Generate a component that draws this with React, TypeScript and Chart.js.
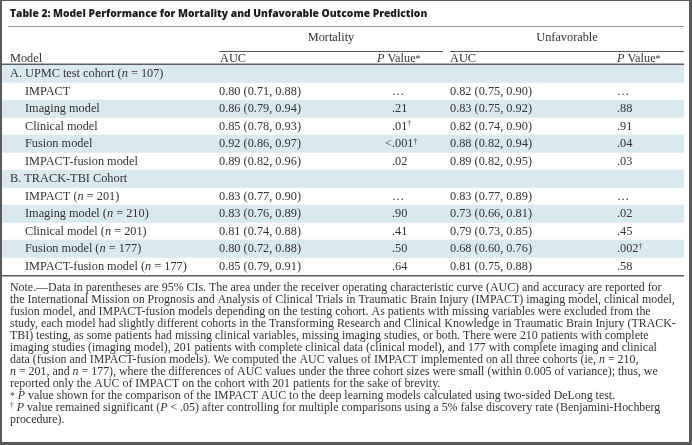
import React, { useEffect, useRef } from "react";
import { Chart, registerables } from "chart.js";

Chart.register(...registerables);

// ---------------- data ----------------
const tableTitle = "Table 2: Model Performance for Mortality and Unfavorable Outcome Prediction";
const outcomeGroups = ["Mortality", "Unfavorable"];
const columnHeaders = ["Model", "AUC", "_P_ Value^*^", "AUC", "_P_ Value^*^"];
const modelRows = [
  "A. UPMC test cohort (_n_ = 107)",
  "IMPACT",
  "Imaging model",
  "Clinical model",
  "Fusion model",
  "IMPACT-fusion model",
  "B. TRACK-TBI Cohort",
  "IMPACT (_n_ = 201)",
  "Imaging model (_n_ = 210)",
  "Clinical model (_n_ = 201)",
  "Fusion model (_n_ = 177)",
  "IMPACT-fusion model (_n_ = 177)",
];
const sectionRow = [true, false, false, false, false, false, true, false, false, false, false, false];
const mortalityAuc = [
  "", "0.80 (0.71, 0.88)", "0.86 (0.79, 0.94)", "0.85 (0.78, 0.93)", "0.92 (0.86, 0.97)", "0.89 (0.82, 0.96)",
  "", "0.83 (0.77, 0.90)", "0.83 (0.76, 0.89)", "0.81 (0.74, 0.88)", "0.80 (0.72, 0.88)", "0.85 (0.79, 0.91)",
];
const mortalityP = ["", "…", ".21", ".01^†^", "<.001^†^", ".02", "", "…", ".90", ".41", ".50", ".64"];
const unfavorableAuc = [
  "", "0.82 (0.75, 0.90)", "0.83 (0.75, 0.92)", "0.82 (0.74, 0.90)", "0.88 (0.82, 0.94)", "0.89 (0.82, 0.95)",
  "", "0.83 (0.77, 0.89)", "0.73 (0.66, 0.81)", "0.79 (0.73, 0.85)", "0.68 (0.60, 0.76)", "0.81 (0.75, 0.88)",
];
const unfavorableP = ["", "…", ".88", ".91", ".04", ".03", "", "…", ".02", ".45", ".002^†^", ".58"];
const rowShading = [1, 0, 1, 0, 1, 0, 1, 0, 1, 0, 1, 0];
const noteLines = [
  "Note.—Data in parentheses are 95% CIs. The area under the receiver operating characteristic curve (AUC) and accuracy are reported for",
  "the International Mission on Prognosis and Analysis of Clinical Trials in Traumatic Brain Injury (IMPACT) imaging model, clinical model,",
  "fusion model, and IMPACT-fusion models depending on the testing cohort. As patients with missing variables were excluded from the",
  "study, each model had slightly different cohorts in the Transforming Research and Clinical Knowledge in Traumatic Brain Injury (TRACK-",
  "TBI) testing, as some patients had missing clinical variables, missing imaging studies, or both. There were 210 patients with complete",
  "imaging studies (imaging model), 201 patients with complete clinical data (clinical model), and 177 with complete imaging and clinical",
  "data (fusion and IMPACT-fusion models). We computed the AUC values of IMPACT implemented on all three cohorts (ie, _n_ = 210,",
  "_n_ = 201, and _n_ = 177), where the differences of AUC values under the three cohort sizes were small (within 0.005 of variance); thus, we",
  "reported only the AUC of IMPACT on the cohort with 201 patients for the sake of brevity.",
  "^*^ _P_ value shown for the comparison of the IMPACT AUC to the deep learning models calculated using two-sided DeLong test.",
  "^†^ _P_ value remained significant (_P_ < .05) after controlling for multiple comparisons using a 5% false discovery rate (Benjamini-Hochberg",
  "procedure).",
];

// ---------------- rich text helpers ----------------
type Seg = { t: string; italic: boolean; sup: boolean };
function parseRich(text: string): Seg[] {
  const out: Seg[] = [];
  let italic = false, sup = false, buf = "";
  for (const ch of text) {
    if (ch === "_" || ch === "^") {
      if (buf) out.push({ t: buf, italic, sup });
      buf = "";
      if (ch === "_") italic = !italic; else sup = !sup;
    } else buf += ch;
  }
  if (buf) out.push({ t: buf, italic, sup });
  return out;
}
function segFont(s: Seg, size: number, family: string, weight: string) {
  const sz = s.sup ? size * (s.t === "*" ? 0.8 : 0.62) : size;
  return `${s.italic ? "italic " : ""}${weight} ${sz}px ${family}`;
}
function measureRich(ctx: CanvasRenderingContext2D, text: string, size: number, family: string, weight = "normal") {
  let w = 0;
  for (const s of parseRich(text)) {
    ctx.font = segFont(s, size, family, weight);
    w += ctx.measureText(s.t).width;
  }
  return w;
}
function drawRich(
  ctx: CanvasRenderingContext2D, text: string, x: number, y: number, size: number,
  family: string, color: string, weight = "normal", align: "left" | "center" | "right" = "left"
) {
  const w = measureRich(ctx, text, size, family, weight);
  let cx = align === "left" ? x : align === "center" ? x - w / 2 : x - w;
  ctx.fillStyle = color;
  ctx.textAlign = "left";
  ctx.textBaseline = "middle";
  for (const s of parseRich(text)) {
    ctx.font = segFont(s, size, family, weight);
    const dy = s.sup ? (s.t === "*" ? 0 : -size * 0.2) : 0;
    ctx.fillText(s.t, cx, y + dy);
    cx += ctx.measureText(s.t).width;
  }
}
function drawDecimal(ctx: CanvasRenderingContext2D, text: string, dotX: number, y: number, size: number, family: string, color: string) {
  if (!text) return;
  const i = text.indexOf(".");
  const prefix = text.startsWith("…") || i < 0 ? "" : text.slice(0, i);
  const pw = prefix ? measureRich(ctx, prefix, size, family) : 0;
  drawRich(ctx, text, dotX - pw, y, size, family, color);
}

// ---------------- layout constants ----------------
const W = 692, H = 445;
const SERIF = '"Liberation Serif", "Times New Roman", serif';
const SANS = '"Open Sans", Lato, "Noto Sans", sans-serif';
const TEXT = "#333333";
const DARK = "#555555";
const SHADE = "#dae9ee";

const tablePlugin = {
  id: "tableText",
  beforeDraw(chart: any) {
    const ctx = chart.ctx as CanvasRenderingContext2D;
    ctx.save();
    ctx.fillStyle = "#ffffff";
    ctx.fillRect(0, 0, W, H);
    ctx.restore();
  },
  afterDatasetsDraw(chart: any) {
    const ctx = chart.ctx as CanvasRenderingContext2D;
    const yScale = chart.scales.y;
    const area = chart.chartArea;
    ctx.save();

    // sizes fitted to the reference widths
    const bodySize = (12 * 82) / measureRich(ctx, mortalityAuc[1], 12, SERIF);
    const noteSize = (12 * 652) / measureRich(ctx, noteLines[0], 12, SERIF);
    const titleSize = (11 * 418) / measureRich(ctx, tableTitle, 11, SANS, "800");

    // title
    drawRich(ctx, tableTitle, 10, 14, titleSize, SANS, "#1a1a1a", "800");
    ctx.fillStyle = "#9a9a9a";
    ctx.fillRect(8, 26, 676, 1);

    // group headers
    const colX = [10, 220, 377, 450, 617];
    drawRich(ctx, outcomeGroups[0], 331, 38, bodySize, SERIF, TEXT, "normal", "center");
    drawRich(ctx, outcomeGroups[1], 567, 38, bodySize, SERIF, TEXT, "normal", "center");
    ctx.fillStyle = DARK;
    ctx.fillRect(219, 51, 224, 1);
    ctx.fillRect(450, 51, 234, 1);
    columnHeaders.forEach((h, i) => drawRich(ctx, h, colX[i], 59, bodySize, SERIF, TEXT));

    // header bottom and table bottom rules
    ctx.fillStyle = "#5e5e5e";
    ctx.fillRect(area.left, area.top - 1.5, area.right - area.left, 1.5);
    ctx.fillRect(area.left, area.bottom, area.right - area.left, 1.5);

    // cells
    modelRows.forEach((m, i) => {
      const y = yScale.getPixelForValue(i) + 0.5;
      drawRich(ctx, m, sectionRow[i] ? 10 : 25, y, bodySize, SERIF, TEXT);
      if (mortalityAuc[i]) drawRich(ctx, mortalityAuc[i], 219, y, bodySize, SERIF, TEXT);
      drawDecimal(ctx, mortalityP[i], 392, y, bodySize, SERIF, TEXT);
      if (unfavorableAuc[i]) drawRich(ctx, unfavorableAuc[i], 450, y, bodySize, SERIF, TEXT);
      drawDecimal(ctx, unfavorableP[i], 617, y, bodySize, SERIF, TEXT);
    });

    // notes
    noteLines.forEach((line, i) => drawRich(ctx, line, 10, 288 + i * 12, noteSize, SERIF, TEXT));

    // outer frame
    ctx.fillStyle = "#5a5a5a";
    ctx.fillRect(0, 0, W, 1);
    ctx.fillRect(0, 0, 2, H);
    ctx.fillRect(689, 0, 3, H);
    ctx.fillRect(0, 442, W, 3);
    ctx.restore();
  },
};

export default function App() {
  const ref = useRef<HTMLCanvasElement | null>(null);
  useEffect(() => {
    document.body.style.margin = "0";
    if (!ref.current) return;
    const chart = new Chart(ref.current, {
      type: "bar",
      data: {
        labels: modelRows.map((m) => m.replace(/_/g, "")),
        datasets: [
          {
            data: rowShading,
            backgroundColor: SHADE,
            borderWidth: 0,
            barPercentage: 1,
            categoryPercentage: 1,
          },
        ],
      },
      options: {
        indexAxis: "y",
        responsive: false,
        animation: false,
        devicePixelRatio: 1,
        layout: { padding: { top: 65, bottom: H - 275, left: 2, right: 8 } },
        scales: {
          x: { display: false, min: 0, max: 1 },
          y: { display: false },
        },
        plugins: { legend: { display: false }, tooltip: { enabled: false }, title: { display: false } },
      },
      plugins: [tablePlugin],
    } as any);
    return () => chart.destroy();
  }, []);
  return <canvas ref={ref} width={W} height={H} style={{ display: "block", width: W, height: H }} />;
}
